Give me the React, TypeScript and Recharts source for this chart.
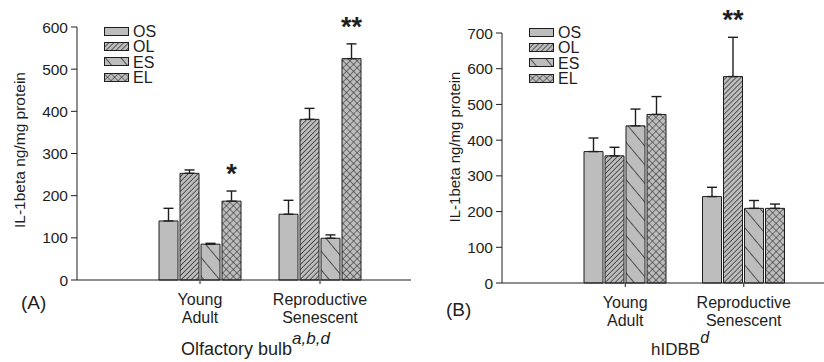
import React from 'react';
import { BarChart, Bar, XAxis, YAxis, ErrorBar, LabelList, Legend } from 'recharts';

const categories = ['Young Adult', 'Reproductive Senescent'];
const seriesNames = ['OS', 'OL', 'ES', 'EL'];

// (A) Olfactory bulb
const obOS = [140, 156];
const obOSErr = [30, 33];
const obOL = [253, 381];
const obOLErr = [8, 26];
const obES = [85, 99];
const obESErr = [2, 8];
const obEL = [187, 525];
const obELErr = [24, 35];
const obSig = ['*', '**'];
const obTicks = [0, 100, 200, 300, 400, 500, 600];

// (B) hlDBB
const hdOS = [368, 242];
const hdOSErr = [38, 26];
const hdOL = [356, 578];
const hdOLErr = [24, 110];
const hdES = [440, 209];
const hdESErr = [47, 22];
const hdEL = [472, 209];
const hdELErr = [50, 12];
const hdSig = ['', '**'];
const hdTicks = [0, 100, 200, 300, 400, 500, 600, 700];

const FONT = '"Liberation Sans", Arial, sans-serif';
const GRAY = '#bdbdbd';
const INK = '#1e1e1e';

const obData = categories.map((name, i) => ({
  name,
  OS: obOS[i], OSerr: [0, obOSErr[i]],
  OL: obOL[i], OLerr: [0, obOLErr[i]],
  ES: obES[i], ESerr: [0, obESErr[i]],
  EL: obEL[i], ELerr: [0, obELErr[i]],
  sig: obSig[i],
}));

const hdData = categories.map((name, i) => ({
  name,
  OS: hdOS[i], OSerr: [0, hdOSErr[i]],
  OL: hdOL[i], OLerr: [0, hdOLErr[i]],
  ES: hdES[i], ESerr: [0, hdESErr[i]],
  EL: hdEL[i], ELerr: [0, hdELErr[i]],
  sig: hdSig[i],
}));

const fillFor = (p: string, s: string) => (s === 'OS' ? GRAY : `url(#${p}-${s})`);

function Patterns({ p }: { p: string }) {
  return (
    <defs>
      <pattern id={`${p}-OL`} width="3.5" height="3.5" patternUnits="userSpaceOnUse" patternTransform="rotate(45)">
        <rect width="3.5" height="3.5" fill={GRAY} />
        <line x1="0" y1="0" x2="0" y2="3.5" stroke={INK} strokeWidth="1.3" />
      </pattern>
      <pattern id={`${p}-ES`} width="12" height="12" patternUnits="userSpaceOnUse" patternTransform="rotate(-40)">
        <rect width="12" height="12" fill={GRAY} />
        <line x1="0" y1="0" x2="0" y2="12" stroke={INK} strokeWidth="1.4" />
      </pattern>
      <pattern id={`${p}-EL`} width="5" height="5" patternUnits="userSpaceOnUse" patternTransform="rotate(45)">
        <rect width="5" height="5" fill={GRAY} />
        <line x1="0" y1="0" x2="0" y2="5" stroke={INK} strokeWidth="1" />
        <line x1="0" y1="0" x2="5" y2="0" stroke={INK} strokeWidth="1" />
      </pattern>
    </defs>
  );
}

const CatTick = (props: any) => {
  const { x, y, payload } = props;
  const words = String(payload.value).split(' ');
  return (
    <text x={x} y={y + 19} textAnchor="middle" fontSize={16} fill={INK} fontFamily={FONT}>
      {words.map((w, i) => (
        <tspan key={i} x={x} dy={i === 0 ? 0 : 17.5}>{w}</tspan>
      ))}
    </text>
  );
};

const starLabel = (values: number[], errs: number[]) => (props: any) => {
  const vb = props.viewBox || {};
  const x = props.x ?? vb.x;
  const y = props.y ?? vb.y;
  const width = props.width ?? vb.width;
  const height = props.height ?? vb.height;
  const { index, value } = props;
  if (!value) return null;
  const pxPerUnit = height / values[index];
  const top = y - errs[index] * pxPerUnit;
  return (
    <text x={x + width / 2} y={top - 8} textAnchor="middle" fontSize={27} fontWeight="bold" fill={INK} fontFamily={FONT}>
      {value}
    </text>
  );
};

const legendContent = (p: string) => () => (
  <div style={{ fontFamily: FONT, fontSize: 16, color: INK }}>
    {seriesNames.map((s) => (
      <div key={s} style={{ display: 'flex', alignItems: 'center', height: 15.3, lineHeight: '15px' }}>
        <svg width={25} height={10} style={{ marginRight: 4 }}>
          <rect x={0.5} y={0.5} width={24} height={8} fill={fillFor(p, s)} stroke={INK} />
        </svg>
        <span>{s}</span>
      </div>
    ))}
  </div>
);

function Panel(props: {
  p: string;
  data: any[];
  ticks: number[];
  max: number;
  margin: { top: number; right: number; bottom: number; left: number };
  yWidth: number;
  padding: { left: number; right: number };
  sigKey: string;
  sigValues: number[];
  sigErrs: number[];
  legendPos: { left: number; top: number };
}) {
  const { p, data, ticks, max, margin, yWidth, padding, sigKey, sigValues, sigErrs, legendPos } = props;
  return (
    <BarChart width={412} height={362} data={data} margin={margin} barSize={19} barGap={2}>
      <Patterns p={p} />
      <XAxis
        dataKey="name"
        height={30}
        padding={padding}
        tick={<CatTick />}
        tickSize={4}
        axisLine={{ stroke: INK }}
        tickLine={{ stroke: INK }}
        interval={0}
      />
      <YAxis
        width={yWidth}
        domain={[0, max]}
        ticks={ticks}
        tickSize={6}
        tickMargin={3}
        tick={{ fontSize: 15.5, fill: INK, fontFamily: FONT }}
        axisLine={{ stroke: INK }}
        tickLine={{ stroke: INK }}
      />
      <Legend
        verticalAlign="middle"
        align="center"
        layout="vertical"
        content={legendContent(p)}
        wrapperStyle={{ left: legendPos.left, top: legendPos.top, width: 60 }}
      />
      {seriesNames.map((s) => (
        <Bar key={s} dataKey={s} fill={fillFor(p, s)} stroke={INK} strokeWidth={1} isAnimationActive={false}>
          <ErrorBar dataKey={`${s}err`} width={5} stroke={INK} strokeWidth={1.4} direction="y" />
          {s === sigKey && <LabelList dataKey="sig" content={starLabel(sigValues, sigErrs)} />}
        </Bar>
      ))}
    </BarChart>
  );
}

const abs = (left: number, top: number, extra: React.CSSProperties = {}): React.CSSProperties => ({
  position: 'absolute',
  left,
  top,
  fontFamily: FONT,
  color: INK,
  whiteSpace: 'nowrap',
  ...extra,
});

export default function App() {
  return (
    <div style={{ position: 'absolute', left: 0, top: 0, width: 824, height: 362, background: '#fff', overflow: 'hidden' }}>
      <div style={{ position: 'absolute', left: 0, top: 0 }}>
        <Panel
          p="ob"
          data={obData}
          ticks={obTicks}
          max={600}
          margin={{ top: 27, right: 1, bottom: 52, left: 0 }}
          yWidth={77}
          padding={{ left: 63, right: 31 }}
          sigKey="EL"
          sigValues={obEL}
          sigErrs={obELErr}
          legendPos={{ left: 104, top: 24 }}
        />
      </div>
      <div style={{ position: 'absolute', left: 412, top: 0 }}>
        <Panel
          p="hd"
          data={hdData}
          ticks={hdTicks}
          max={700}
          margin={{ top: 33, right: 0, bottom: 49, left: 0 }}
          yWidth={90}
          padding={{ left: 64, right: 21 }}
          sigKey="OL"
          sigValues={hdOL}
          sigErrs={hdOLErr}
          legendPos={{ left: 117, top: 25 }}
        />
      </div>

      {/* axis titles */}
      <div style={abs(20, 150, { fontSize: 15.5, transform: 'translate(-50%, -50%) rotate(-90deg)' })}>
        IL-1beta ng/mg protein
      </div>
      <div style={abs(454, 147, { fontSize: 15, transform: 'translate(-50%, -50%) rotate(-90deg)' })}>
        IL-1beta ng/mg protein
      </div>

      {/* panel tags */}
      <div style={abs(21, 292, { fontSize: 19 })}>(A)</div>
      <div style={abs(446, 299, { fontSize: 19 })}>(B)</div>

      {/* x titles */}
      <div style={abs(181, 339, { fontSize: 18 })}>
        Olfactory bulb<sup style={{ fontStyle: 'italic', fontSize: 17, verticalAlign: 0, position: 'relative', top: -11 }}>a,b,d</sup>
      </div>
      <div style={abs(651, 340, { fontSize: 17 })}>
        hIDBB<sup style={{ fontStyle: 'italic', fontSize: 16, verticalAlign: 0, position: 'relative', top: -12 }}>d</sup>
      </div>
    </div>
  );
}
